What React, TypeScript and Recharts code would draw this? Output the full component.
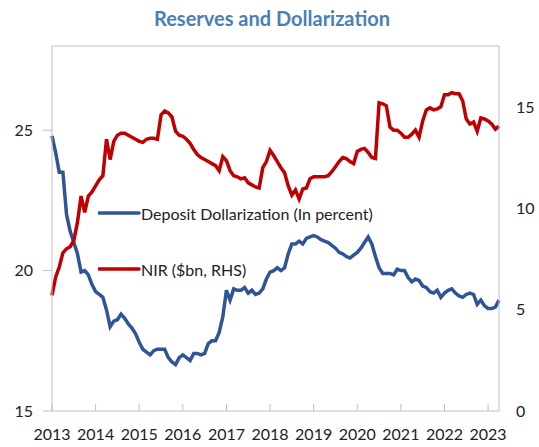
import React from 'react';
import { LineChart, Line, XAxis, YAxis, Legend, ReferenceLine } from 'recharts';

// monthly, Jan 2013 - Apr 2023
const startYear = 2013;

const dollarization = [
  24.8, 24.2, 23.5, 23.5, 22.0, 21.4, 21.0, 20.6, 19.95, 20.0, 19.85, 19.5,
  19.25, 19.15, 19.05, 18.6, 18.0, 18.2, 18.25, 18.45, 18.3, 18.1, 17.95, 17.75,
  17.45, 17.2, 17.1, 17.0, 17.15, 17.2, 17.2, 17.2, 16.9, 16.75, 16.65, 16.9,
  17.0, 16.9, 16.8, 17.05, 17.05, 17.0, 17.05, 17.4, 17.5, 17.5, 17.8, 18.35,
  19.3, 18.95, 19.35, 19.3, 19.3, 19.4, 19.2, 19.3, 19.15, 19.2, 19.35, 19.7,
  19.95, 20.0, 20.1, 20.0, 20.1, 20.6, 20.95, 20.95, 21.05, 20.95, 21.15, 21.2,
  21.25, 21.2, 21.1, 21.05, 21.0, 20.9, 20.8, 20.65, 20.6, 20.5, 20.45, 20.55,
  20.65, 20.8, 21.0, 21.2, 20.95, 20.5, 20.1, 19.9, 19.9, 19.9, 19.85, 20.05,
  20.0, 20.0, 19.75, 19.6, 19.7, 19.65, 19.45, 19.4, 19.25, 19.2, 19.3, 19.05,
  19.2, 19.3, 19.35, 19.2, 19.1, 19.05, 19.15, 19.2, 19.15, 18.8, 18.95, 18.75,
  18.65, 18.65, 18.7, 18.95,
];

const nir = [
  5.7, 6.6, 7.1, 7.8, 8.0, 8.1, 8.4, 9.3, 10.6, 9.8, 10.6, 10.8,
  11.1, 11.4, 11.6, 13.4, 12.4, 13.3, 13.6, 13.7, 13.7, 13.6, 13.5, 13.4,
  13.3, 13.25, 13.4, 13.45, 13.45, 13.4, 14.6, 14.8, 14.7, 14.5, 13.8, 13.6,
  13.55, 13.4, 13.2, 12.9, 12.65, 12.5, 12.4, 12.3, 12.2, 12.1, 11.85, 12.55,
  12.35, 11.85, 11.6, 11.55, 11.45, 11.5, 11.25, 11.15, 11.05, 11.0, 12.0, 12.3,
  12.85, 12.6, 12.3, 12.0, 11.75, 11.1, 10.65, 10.9, 10.45, 10.95, 11.0, 11.45,
  11.55, 11.55, 11.55, 11.55, 11.6, 11.8, 12.05, 12.3, 12.5, 12.45, 12.3, 12.2,
  12.8, 12.9, 12.95, 12.75, 12.5, 12.45, 15.2, 15.15, 15.05, 14.0, 13.85, 13.85,
  13.7, 13.5, 13.5, 13.65, 13.85, 13.5, 14.3, 14.85, 14.95, 14.85, 14.9, 15.0,
  15.6, 15.6, 15.7, 15.65, 15.65, 15.3, 14.4, 14.15, 14.25, 13.8, 14.45, 14.4,
  14.3, 14.15, 13.9, 14.05,
];

const yearTicks = [2013, 2014, 2015, 2016, 2017, 2018, 2019, 2020, 2021, 2022, 2023];
const leftTicks = [15, 20, 25];
const rightTicks = [0, 5, 10, 15];

const data = dollarization.map((v, i) => ({
  t: startYear + i / 12,
  dollarization: v,
  nir: nir[i],
}));

const BLUE = '#2f5597';
const RED = '#c00000';
const AXIS = '#bfbfbf';
const FONT = 'Lato, sans-serif';

const legendItems = [
  { label: 'Deposit Dollarization (In percent)', color: BLUE },
  { label: 'NIR ($bn, RHS)', color: RED },
];

function renderLegend() {
  return (
    <div style={{ fontFamily: FONT, fontSize: 16, color: '#222' }}>
      {legendItems.map((it, i) => (
        <div
          key={it.label}
          style={{ display: 'flex', alignItems: 'center', height: 20, marginBottom: i === 0 ? 36 : 0 }}
        >
          <svg width={43} height={20}>
            <line x1={1} y1={10} x2={41} y2={10} stroke={it.color} strokeWidth={3.5} strokeLinecap="round" />
          </svg>
          <span style={{ whiteSpace: 'nowrap' }}>{it.label}</span>
        </div>
      ))}
    </div>
  );
}

export default function App() {
  const tickStyle = { fontFamily: FONT, fontSize: 16, fill: '#222' };
  return (
    <div style={{ position: 'absolute', left: 0, top: 0, width: 539, height: 447 }}>
      <svg width={539} height={40} style={{ position: 'absolute', left: 0, top: 0 }}>
        <text x={272} y={26} textAnchor="middle" fontFamily={FONT} fontWeight="bold" fontSize={20} fill="#4a7fb5">
          Reserves and Dollarization
        </text>
      </svg>
      <LineChart width={539} height={447} data={data} margin={{ top: 46, right: 0, bottom: 0, left: 0 }}>
        <XAxis
          dataKey="t"
          type="number"
          domain={[2013, 2023.25]}
          ticks={yearTicks}
          tickFormatter={(v) => String(Math.round(v))}
          height={36}
          stroke={AXIS}
          tickSize={-7}
          tickMargin={25}
          tick={tickStyle}
          interval={0}
        />
        <YAxis
          yAxisId="left"
          domain={[15, 28]}
          ticks={leftTicks}
          width={52}
          stroke={AXIS}
          tickSize={9}
          tickMargin={10}
          tick={tickStyle}
        />
        <YAxis
          yAxisId="right"
          orientation="right"
          domain={[0, 18]}
          ticks={rightTicks}
          width={40}
          stroke={AXIS}
          tickLine={false}
          tickSize={0}
          tickMargin={17}
          tick={tickStyle}
        />
        <ReferenceLine yAxisId="left" y={28} stroke={AXIS} />
        <Line
          yAxisId="left"
          type="linear"
          dataKey="dollarization"
          stroke={BLUE}
          strokeWidth={3.5}
          dot={false}
          isAnimationActive={false}
        />
        <Line
          yAxisId="right"
          type="linear"
          dataKey="nir"
          stroke={RED}
          strokeWidth={3.5}
          dot={false}
          isAnimationActive={false}
        />
        <Legend
          layout="vertical"
          align="center"
          verticalAlign="middle"
          content={renderLegend}
          wrapperStyle={{ left: 98, top: 203, width: 'auto' }}
        />
      </LineChart>
    </div>
  );
}
